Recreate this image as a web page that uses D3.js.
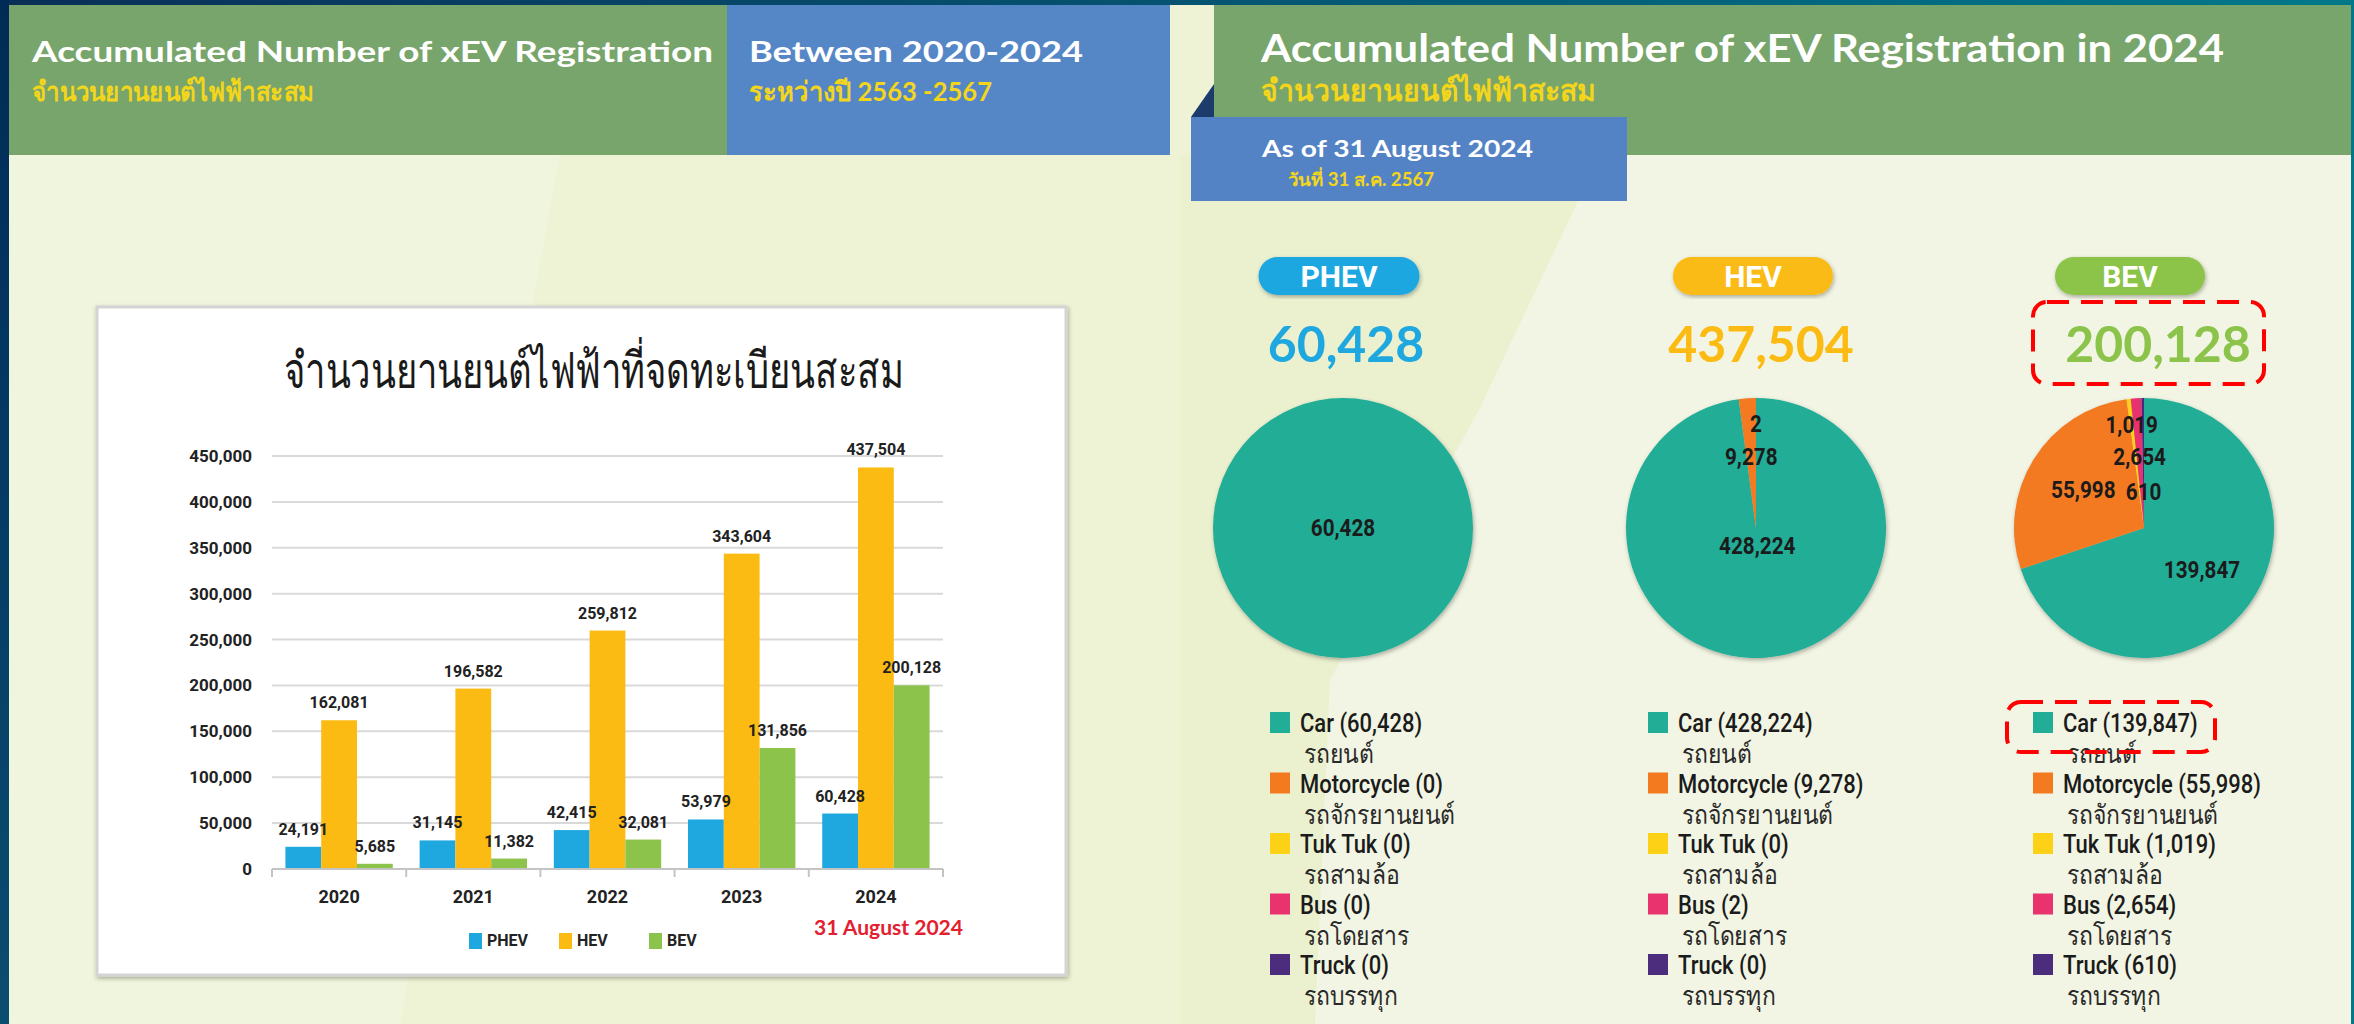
<!DOCTYPE html>
<html>
<head>
<meta charset="utf-8">
<script src="https://cdn.jsdelivr.net/npm/d3@7"></script>
<style>
  body { margin: 0; background: #eef3d5; }
  svg { display: block; }
</style>
</head>
<body>
<script>
// ---- data ----
const years = ["2020", "2021", "2022", "2023", "2024"];
const seriesNames = ["PHEV", "HEV", "BEV"];
const phevByYear = [24191, 31145, 42415, 53979, 60428];
const hevByYear = [162081, 196582, 259812, 343604, 437504];
const bevByYear = [5685, 11382, 32081, 131856, 200128];
const yTicks = [0, 50000, 100000, 150000, 200000, 250000, 300000, 350000, 400000, 450000];

const vehicleTypes = ["Car", "Motorcycle", "Tuk Tuk", "Bus", "Truck"];
const vehicleTypesTh = ["รถยนต์", "รถจักรยานยนต์", "รถสามล้อ", "รถโดยสาร", "รถบรรทุก"];
const phevByType = [60428, 0, 0, 0, 0];
const hevByType = [428224, 9278, 0, 2, 0];
const bevByType = [139847, 55998, 1019, 2654, 610];

// ---- styles ----
const seriesColors = ["#1fa7e0", "#fbbb13", "#8cc34a"];
const typeColors = ["#22ad97", "#f47a20", "#fcd116", "#e8336f", "#4b2c7d"];
const headFont = "Lato, 'Noto Sans', sans-serif";
const numFont = "Roboto, 'Noto Sans', sans-serif";
const fmt = d3.format(",");

const W = 2354, H = 1024;
const svg = d3.select("body").append("svg")
    .attr("width", W)
    .attr("height", H);

const defs = svg.append("defs");
const topGrad = defs.append("linearGradient").attr("id", "topGrad");
topGrad.append("stop").attr("offset", "0%").attr("stop-color", "#0a2f57");
topGrad.append("stop").attr("offset", "100%").attr("stop-color", "#00788a");
const sideGrad = defs.append("linearGradient").attr("id", "sideGrad")
    .attr("x1", 0).attr("y1", 0).attr("x2", 0).attr("y2", 1);
sideGrad.append("stop").attr("offset", "0%").attr("stop-color", "#002b57");
sideGrad.append("stop").attr("offset", "100%").attr("stop-color", "#0b4d70");

const shadow = defs.append("filter").attr("id", "shadow")
    .attr("x", "-10%").attr("y", "-10%").attr("width", "120%").attr("height", "120%");
shadow.append("feDropShadow").attr("dx", 1).attr("dy", 2)
    .attr("stdDeviation", 2).attr("flood-color", "#000").attr("flood-opacity", 0.3);

// ---- background ----
svg.append("rect").attr("width", W).attr("height", H).attr("fill", "#eef3d5");
svg.append("polygon")
    .attr("points", "9,155 190,155 560,155 400,1024 9,1024")
    .attr("fill", "#f2f6e2").attr("opacity", 0.6);
svg.append("polygon")
    .attr("points", "1180,155 1600,155 1479,410 1330,680 1315,1024 1180,1024")
    .attr("fill", "#eaf0cd").attr("opacity", 0.8);
svg.append("polygon")
    .attr("points", "1600,155 2351,155 2351,1024 1315,1024 1330,680 1479,410")
    .attr("fill", "#f2f5e3");

// borders
svg.append("rect").attr("x", 0).attr("y", 0).attr("width", W).attr("height", 5).attr("fill", "url(#topGrad)");
svg.append("rect").attr("x", 0).attr("y", 0).attr("width", 9).attr("height", H).attr("fill", "url(#sideGrad)");
svg.append("rect").attr("x", 2351).attr("y", 0).attr("width", 3).attr("height", H).attr("fill", "#00788a");

// ---- headers ----
svg.append("rect").attr("x", 9).attr("y", 5).attr("width", 718).attr("height", 150).attr("fill", "#78a56b");
svg.append("rect").attr("x", 727).attr("y", 5).attr("width", 443).attr("height", 150).attr("fill", "#5586c6");
svg.append("rect").attr("x", 1214).attr("y", 5).attr("width", 1137).attr("height", 150).attr("fill", "#78a56b");
svg.append("polygon").attr("points", "1191,117 1214,84 1214,117").attr("fill", "#1d3c6b");
svg.append("rect").attr("x", 1191).attr("y", 117).attr("width", 436).attr("height", 84).attr("fill", "#5383c4");

function headText(x, y, size, color, weight, txt, len) {
    const t = svg.append("text")
        .attr("x", x).attr("y", y)
        .attr("font-family", headFont)
        .attr("font-size", size)
        .attr("font-weight", weight)
        .attr("fill", color)
        .text(txt);
    if (len) t.attr("textLength", len).attr("lengthAdjust", "spacingAndGlyphs");
    return t;
}
headText(32, 62, 28, "#ffffff", 700, "Accumulated Number of xEV Registration", 681);
headText(32, 101, 27, "#f3d61c", 700, "จำนวนยานยนต์ไฟฟ้าสะสม", 282);
headText(749, 62, 28, "#ffffff", 700, "Between 2020-2024", 334);
headText(749, 101, 27, "#f3d61c", 700, "ระหว่างปี 2563 -2567", 243);
headText(1261, 62, 39, "#ffffff", 700, "Accumulated Number of xEV Registration in 2024", 963);
headText(1261, 101, 30, "#f3d61c", 700, "จำนวนยานยนต์ไฟฟ้าสะสม", 335);
headText(1262, 157, 23, "#ffffff", 700, "As of 31 August 2024", 271);
headText(1288, 186, 18, "#f3d61c", 700, "วันที่ 31 ส.ค. 2567", 146);

// ---- bar chart card ----
svg.append("rect")
    .attr("x", 97).attr("y", 307).attr("width", 969).attr("height", 668)
    .attr("fill", "#ffffff").attr("stroke", "#d4d4d4").attr("stroke-width", 3)
    .attr("filter", "url(#shadow)");

svg.append("text")
    .attr("x", 594).attr("y", 388)
    .attr("text-anchor", "middle")
    .attr("font-family", headFont)
    .attr("font-size", 50)
    .attr("fill", "#1a1a1a")
    .attr("textLength", 620).attr("lengthAdjust", "spacingAndGlyphs")
    .text("จำนวนยานยนต์ไฟฟ้าที่จดทะเบียนสะสม");

const x = d3.scaleBand().domain(years).range([272, 943]).paddingInner(0.2).paddingOuter(0.1);
const xSub = d3.scaleBand().domain(seriesNames).range([0, x.bandwidth()]);
const y = d3.scaleLinear().domain([0, 450000]).range([869, 456]);

const chart = svg.append("g");

// gridlines
chart.selectAll(".grid")
    .data(yTicks.filter(d => d > 0))
    .enter().append("line")
    .attr("x1", x.range()[0]).attr("x2", x.range()[1])
    .attr("y1", d => y(d)).attr("y2", d => y(d))
    .attr("stroke", "#d9d9d9").attr("stroke-width", 2);

// y tick labels
chart.selectAll(".ylab")
    .data(yTicks)
    .enter().append("text")
    .attr("x", 252).attr("y", d => y(d))
    .attr("dy", "0.35em")
    .attr("text-anchor", "end")
    .attr("font-family", numFont)
    .attr("font-weight", 700)
    .attr("font-size", 17)
    .attr("fill", "#222")
    .text(d => fmt(d));

// bars
const seriesData = [phevByYear, hevByYear, bevByYear];
const barData = [];
years.forEach((yr, i) => {
    seriesNames.forEach((s, j) => {
        barData.push({ year: yr, series: s, value: seriesData[j][i], color: seriesColors[j] });
    });
});

chart.selectAll(".bar")
    .data(barData)
    .enter().append("rect")
    .attr("x", d => x(d.year) + xSub(d.series))
    .attr("y", d => y(d.value))
    .attr("width", xSub.bandwidth())
    .attr("height", d => y(0) - y(d.value))
    .attr("fill", d => d.color);

chart.selectAll(".blab")
    .data(barData)
    .enter().append("text")
    .attr("x", d => x(d.year) + xSub(d.series) + xSub.bandwidth() / 2)
    .attr("y", d => y(d.value) - 12)
    .attr("text-anchor", "middle")
    .attr("font-family", numFont)
    .attr("font-weight", 700)
    .attr("font-size", 16)
    .attr("fill", "#222")
    .text(d => fmt(d.value));

// x axis with ticks at category boundaries
chart.append("line")
    .attr("x1", x.range()[0]).attr("x2", x.range()[1])
    .attr("y1", y(0)).attr("y2", y(0))
    .attr("stroke", "#c4c4c4").attr("stroke-width", 2);
chart.selectAll(".xtick")
    .data(d3.range(years.length + 1))
    .enter().append("line")
    .attr("x1", i => x.range()[0] + i * x.step())
    .attr("x2", i => x.range()[0] + i * x.step())
    .attr("y1", y(0)).attr("y2", y(0) + 8)
    .attr("stroke", "#c4c4c4").attr("stroke-width", 2);
chart.selectAll(".xlab")
    .data(years)
    .enter().append("text")
    .attr("x", d => x(d) + x.bandwidth() / 2)
    .attr("y", 903)
    .attr("text-anchor", "middle")
    .attr("font-family", numFont)
    .attr("font-weight", 700)
    .attr("font-size", 18)
    .attr("fill", "#222")
    .text(d => d);

// legend
const leg = chart.selectAll(".leg")
    .data(seriesNames)
    .enter().append("g")
    .attr("transform", (d, i) => `translate(${469 + i * 90},933)`);
leg.append("rect").attr("width", 13).attr("height", 16).attr("fill", (d, i) => seriesColors[i]);
leg.append("text")
    .attr("x", 18).attr("y", 13)
    .attr("font-family", numFont)
    .attr("font-weight", 700)
    .attr("font-size", 16)
    .attr("fill", "#222")
    .text(d => d);

svg.append("text")
    .attr("x", 814).attr("y", 935)
    .attr("font-family", headFont)
    .attr("font-weight", 700)
    .attr("font-size", 21)
    .attr("fill", "#e3202f")
    .attr("textLength", 149).attr("lengthAdjust", "spacingAndGlyphs")
    .text("31 August 2024");

// ---- pies ----
const pieCols = [
    { name: "PHEV", values: phevByType, color: seriesColors[0], cx: 1343, pillCx: 1339, pillW: 161, numCx: 1346, legX: 1270 },
    { name: "HEV", values: hevByType, color: seriesColors[1], cx: 1756, pillCx: 1753, pillW: 160, numCx: 1761, legX: 1648 },
    { name: "BEV", values: bevByType, color: seriesColors[2], cx: 2144, pillCx: 2130, pillW: 150, numCx: 2158, legX: 2033 }
];
const pieCy = 528, pieR = 130;
const pie = d3.pie().sort(null).value(d => d);
const arc = d3.arc().innerRadius(0).outerRadius(pieR);

pieCols.forEach(col => {
    const total = d3.sum(col.values);

    // pill badge
    svg.append("rect")
        .attr("x", col.pillCx - col.pillW / 2).attr("y", 257)
        .attr("width", col.pillW).attr("height", 38)
        .attr("rx", 19)
        .attr("fill", col.color)
        .attr("filter", "url(#shadow)");
    svg.append("text")
        .attr("x", col.pillCx).attr("y", 287)
        .attr("text-anchor", "middle")
        .attr("font-family", numFont)
        .attr("font-weight", 700)
        .attr("font-size", 30)
        .attr("fill", "#ffffff")
        .text(col.name);

    // total number
    svg.append("text")
        .attr("x", col.numCx).attr("y", 362)
        .attr("text-anchor", "middle")
        .attr("font-family", headFont)
        .attr("font-weight", 700)
        .attr("font-size", 50)
        .attr("fill", col.color)
        .text(fmt(total));

    const arcs = pie(col.values);
    const g = svg.append("g").attr("transform", `translate(${col.cx},${pieCy})`);
    g.append("g").attr("filter", "url(#shadow)")
        .selectAll("path")
        .data(arcs)
        .enter().append("path")
        .attr("d", arc)
        .attr("fill", (d, i) => typeColors[i]);

    // labels: dominant slices pulled toward centre, tiny slices stacked along the radius
    let tiny = 0;
    const labelled = arcs.filter(d => d.value > 0).map(d => {
        const share = d.value / total;
        let rad;
        if (share < 0.01) {
            rad = pieR * (tiny++ % 2 === 0 ? 0.8 : 0.28);
        } else {
            rad = pieR * 0.55 * Math.min(1, (1 - share) * 12);
        }
        const c = d3.arc().innerRadius(rad).outerRadius(rad).centroid(d);
        return { value: d.value, x: c[0], y: c[1] };
    });
    g.selectAll(".plab")
        .data(labelled)
        .enter().append("text")
        .attr("transform", d => `translate(${d.x},${d.y}) scale(0.9,1)`)
        .attr("dy", "0.35em")
        .attr("text-anchor", "middle")
        .attr("font-family", numFont)
        .attr("font-weight", 700)
        .attr("font-size", 23)
        .attr("fill", "#1b1b1b")
        .text(d => fmt(d.value));

    // legend
    const lg = svg.selectAll(null)
        .data(vehicleTypes)
        .enter().append("g")
        .attr("transform", (d, i) => `translate(${col.legX},${712 + i * 60.5})`);
    lg.append("rect").attr("width", 20).attr("height", 21).attr("fill", (d, i) => typeColors[i]);
    lg.append("text")
        .attr("transform", "translate(30,20) scale(0.88,1)")
        .attr("font-family", numFont)
        .attr("font-weight", 500)
        .attr("font-size", 25)
        .attr("fill", "#1b1b1b")
        .text((d, i) => `${d} (${fmt(col.values[i])})`);
    lg.append("text")
        .attr("transform", "translate(34,51) scale(0.85,1)")
        .attr("font-family", numFont)
        .attr("font-size", 27)
        .attr("fill", "#2a2a2a")
        .text((d, i) => vehicleTypesTh[i]);
});

// red dashed highlight boxes
[[2033, 302, 231, 82], [2007, 702, 208, 50]].forEach(b => {
    svg.append("rect")
        .attr("x", b[0]).attr("y", b[1]).attr("width", b[2]).attr("height", b[3])
        .attr("rx", 14)
        .attr("fill", "none")
        .attr("stroke", "#ff0000")
        .attr("stroke-width", 4)
        .attr("stroke-dasharray", "22 12");
});
</script>
</body>
</html>
